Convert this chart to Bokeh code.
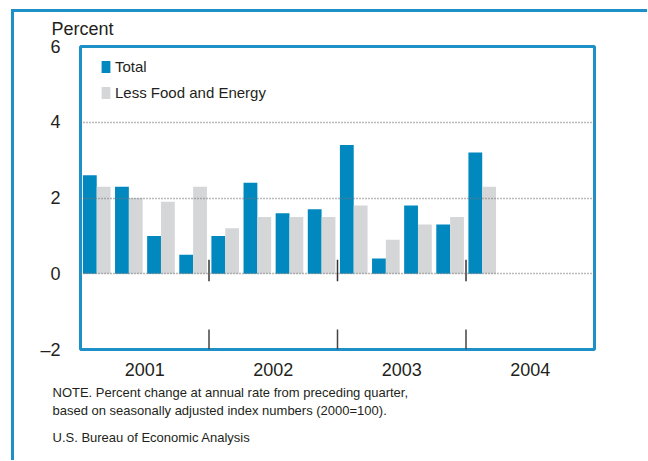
from bokeh.plotting import figure
from bokeh.models import Range1d, FixedTicker, Legend, LegendItem, Title
from bokeh.embed import file_html
from bokeh.resources import INLINE

# ---- data ----
quarters = ["2001Q1", "2001Q2", "2001Q3", "2001Q4",
            "2002Q1", "2002Q2", "2002Q3", "2002Q4",
            "2003Q1", "2003Q2", "2003Q3", "2003Q4",
            "2004Q1"]
total = [2.6, 2.3, 1.0, 0.5, 1.0, 2.4, 1.6, 1.7, 3.4, 0.4, 1.8, 1.3, 3.2]
less_food_energy = [2.3, 2.0, 1.9, 2.3, 1.2, 1.5, 1.5, 1.5, 1.8, 0.9, 1.3, 1.5, 2.3]
years = ["2001", "2002", "2003", "2004"]
y_ticks = [-2, 0, 2, 4, 6]
grid_values = [0, 2, 4]
note_lines = ["NOTE. Percent change at annual rate from preceding quarter,",
              "based on seasonally adjusted index numbers (2000=100)."]
source_line = "U.S. Bureau of Economic Analysis"

BLUE = "#0088BF"
GRAY = "#D5D6D8"
FRAME = "#1E90C8"
TEXT = "#231F20"
FONT = "Liberation Sans"

n_q = 4 * len(years)
idx = list(range(len(quarters)))
blue_x = [i + 0.29 for i in idx]
gray_x = [i + 0.72 for i in idx]

p = figure(output_backend="svg", toolbar_location=None,
           frame_width=514, frame_height=303,
           min_border_left=66, min_border_top=34,
           min_border_right=53, min_border_bottom=111,
           x_range=Range1d(0, n_q), y_range=Range1d(-2, 6))
p.styles = {"margin-left": "11px", "margin-top": "9px",
            "border-left": f"3px solid {FRAME}", "border-top": f"3px solid {FRAME}"}
p.background_fill_color = "white"
p.border_fill_color = "white"
p.outline_line_color = FRAME
p.outline_line_width = 3

r1 = p.vbar(x=blue_x, top=total, bottom=0, width=0.43, fill_color=BLUE, line_color=None)
r2 = p.vbar(x=gray_x, top=less_food_energy, bottom=0, width=0.43, fill_color=GRAY, line_color=None)

# grid
p.xgrid.visible = False
p.ygrid.ticker = FixedTicker(ticks=grid_values)
p.ygrid.grid_line_color = "#777777"
p.ygrid.grid_line_dash = "1 2"
p.ygrid.grid_line_width = 1.5
p.ygrid.level = "overlay"

# year dividers
bounds = [4 * (k + 1) for k in range(len(years) - 1)]
p.segment(x0=bounds, y0=[-2] * len(bounds), x1=bounds, y1=[-1.47] * len(bounds),
          line_color="#444444", line_width=1.5)
p.segment(x0=bounds, y0=[-0.2] * len(bounds), x1=bounds, y1=[0.37] * len(bounds),
          line_color="#333333", line_width=1.5)

# axes
p.yaxis.ticker = FixedTicker(ticks=y_ticks)
p.yaxis.major_label_overrides = {-2: "\u20132"}
p.yaxis.axis_line_color = None
p.yaxis.major_tick_line_color = None
p.yaxis.minor_tick_line_color = None
p.yaxis.major_label_standoff = 14
p.yaxis.major_label_text_font = FONT
p.yaxis.major_label_text_font_size = "18px"
p.yaxis.major_label_text_color = TEXT

year_centers = [4 * k + 2 for k in range(len(years))]
p.xaxis.ticker = FixedTicker(ticks=year_centers)
p.xaxis.major_label_overrides = dict(zip(year_centers, years))
p.xaxis.axis_line_color = None
p.xaxis.major_tick_line_color = None
p.xaxis.minor_tick_line_color = None
p.xaxis.major_label_standoff = 7
p.xaxis.major_label_text_font = FONT
p.xaxis.major_label_text_font_size = "18px"
p.xaxis.major_label_text_color = TEXT

legend = Legend(items=[LegendItem(label="Total", renderers=[r1]),
                       LegendItem(label="Less Food and Energy", renderers=[r2])],
                location=(20, 248), glyph_width=11, glyph_height=15,
                label_standoff=4, spacing=9, padding=0, margin=0,
                border_line_color=None, background_fill_alpha=0,
                label_text_font=FONT, label_text_font_size="15px",
                label_text_color=TEXT, label_height=15)
p.add_layout(legend)

# "Percent" above the frame
p.title.text = "Percent"
p.title.align = "left"
p.title.vertical_align = "top"
p.title.offset = -29
p.title.standoff = 11
p.title.text_font = FONT
p.title.text_font_size = "18px"
p.title.text_font_style = "normal"
p.title.text_color = TEXT

# note and source below
p.add_layout(Title(text="\n".join(note_lines), align="left", offset=-28, standoff=9,
                   text_font=FONT, text_font_size="13px", text_font_style="normal",
                   text_line_height=1.2, text_color=TEXT), "below")
p.add_layout(Title(text=source_line, align="left", offset=-28, standoff=11,
                   text_font=FONT, text_font_size="13px", text_font_style="normal",
                   text_color=TEXT), "below")

open("out.html", "w").write(file_html(p, INLINE))
